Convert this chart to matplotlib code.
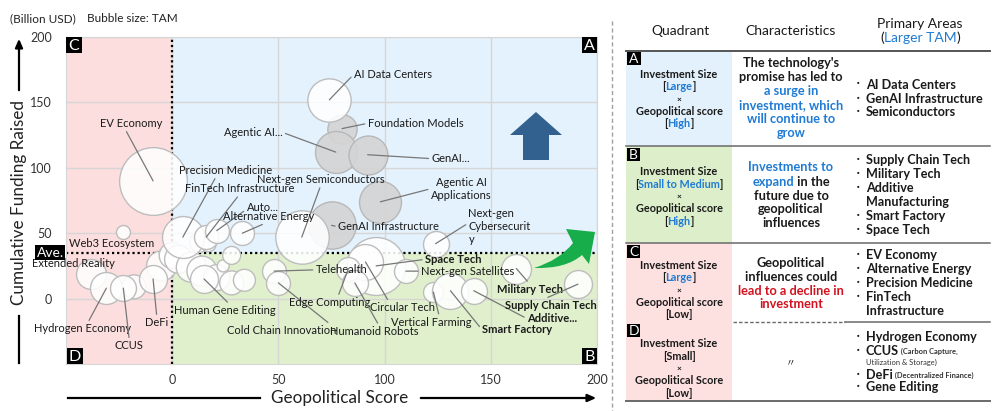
import matplotlib
matplotlib.use("Agg")
import matplotlib.pyplot as plt
from matplotlib.patches import Rectangle, Polygon, PathPatch
from matplotlib.path import Path
import matplotlib.transforms as mtrans

plt.rcParams['font.family'] = ['Lato', 'Noto Sans CJK JP', 'DejaVu Sans']

# ---------------- data ----------------
names = ["AI Data Centers", "Foundation Models", "Agentic AI...", "GenAI...",
         "Agentic AI\nApplications", "GenAI Infrastructure", "Next-gen Semiconductors",
         "Precision Medicine", "FinTech Infrastructure", "Auto...", "Alternative Energy",
         "Next-gen\nCybersecurit\ny", "Space Tech", "Circular Tech", "Next-gen Satellites",
         "Telehealth", "Cold Chain Innovation", "Edge Computing", "Humanoid Robots",
         "Vertical Farming", "Smart Factory", "Additive...", "Military Tech",
         "Supply Chain Tech", "EV Economy", "Web3 Ecosystem", "Extended Reality",
         "Hydrogen Economy", "CCUS", "DeFi", "Human Gene Editing"]
geo_score = [74, 80, 77, 92, 98, 75, 61, 5, 16, 21, 33, 124, 96, 91, 110, 48, 50, 83, 86,
             123, 131, 142, 162, 191, -9, -23, -38, -31, -23, -9, 15]
funding = [152, 130, 112, 110, 74, 56, 47, 47, 47, 52, 50, 42, 25, 28, 21, 21, 12, 23, 12,
           5, 6, 6, 23, 11, 90, 51, 19, 8, 8, 15, 15]
tam = [470, 215, 441, 380, 441, 560, 715, 440, 144, 144, 144, 169, 841, 324, 144, 144, 144,
       144, 169, 100, 324, 169, 225, 196, 1150, 49, 225, 256, 169, 196, 196]
ai_group = ["Foundation Models", "Agentic AI...", "GenAI...", "Agentic AI\nApplications",
            "GenAI Infrastructure"]
bold_names = ["Space Tech", "Military Tech", "Supply Chain Tech", "Additive...", "Smart Factory"]

# other (unlabelled) technologies
other_geo = [-18, -5, 0, 3, 9, 14, 21, 28, 24, 28, 13, 17, 34]
other_funding = [9, 25, 33, 30, 24, 21, 16, 12, 25, 33, 43, 42, 14]
other_tam = [144, 225, 169, 196, 225, 225, 169, 144, 36, 81, 100, 64, 121]

AVE = 35
x_ticks = [0, 50, 100, 150, 200]
y_ticks = [0, 50, 100, 150, 200]

# ---------------- layout ----------------
W, H = 1000, 411
fig = plt.figure(figsize=(10, 4.11), dpi=100)
ax = fig.add_axes([66 / W, 1 - 364 / H, (597 - 66) / W, (364 - 37) / H])
ax.set_xlim(-50, 200)
ax.set_ylim(-50, 200)

PINK, BLUE_BG, GREEN_BG = '#fddede', '#e4f2fd', '#e0f0cd'
ax.add_patch(Rectangle((-50, -50), 50, 250, fc=PINK, ec='none', zorder=0.1))
ax.add_patch(Rectangle((0, AVE), 200, 200 - AVE, fc=BLUE_BG, ec='none', zorder=0.1))
ax.add_patch(Rectangle((0, -50), 200, AVE + 50, fc=GREEN_BG, ec='none', zorder=0.1))

ax.set_xticks(x_ticks)
ax.set_yticks(y_ticks)
ax.set_axisbelow(True)
ax.grid(True, color='#d6d6d6', lw=1)
ax.tick_params(length=0, labelsize=9, colors='#333333')
ax.tick_params(axis='x', pad=7)
ax.tick_params(axis='y', pad=10)
for sp in ax.spines.values():
    sp.set_color('#d6d6d6')

ax.axvline(0, color='black', ls=(0, (1, 1.3)), lw=1.6, zorder=1.5)
ax.axhline(AVE, color='black', ls=(0, (1, 1.3)), lw=1.6, zorder=1.5)

S = 2.07
EDGE = '#bdbdbd'
WHITE = (1, 1, 1, 0.88)
# bubbles
ax.scatter(other_geo, other_funding, s=[t * S for t in other_tam],
           fc=WHITE, ec=EDGE, lw=1, zorder=2)
for n, gx, fy, t in zip(names, geo_score, funding, tam):
    if n in ai_group:
        ax.scatter(gx, fy, s=t * S, fc=(0.83, 0.83, 0.83, 0.92), ec='#b8b8b8', lw=1, zorder=2)
for n, gx, fy, t in zip(names, geo_score, funding, tam):
    if n not in ai_group:
        ax.scatter(gx, fy, s=t * S, fc=WHITE, ec=EDGE, lw=1, zorder=2.1)

# label positions (text anchor in data coords, ha, relpos of leader line start)
label_pos = {
    "AI Data Centers": (85.5, 171.5, 'left', (0, 0.5)),
    "Foundation Models": (92, 134, 'left', (0, 0.5)),
    "Agentic AI...": (52, 127, 'right', (1, 0.5)),
    "GenAI...": (122, 107, 'left', (0, 0.5)),
    "Agentic AI\nApplications": (136, 84, 'center', (0, 0.5)),
    "GenAI Infrastructure": (78, 55, 'left', (0, 0.5)),
    "Next-gen Semiconductors": (70, 91, 'center', (0.5, 0)),
    "Precision Medicine": (3.3, 98, 'left', (0.4, 0)),
    "FinTech Infrastructure": (6, 84, 'left', (0.5, 0)),
    "Auto...": (35, 70, 'left', (0, 0.3)),
    "Alternative Energy": (24, 63, 'left', (0.5, 0)),
    "Next-gen\nCybersecurit\ny": (139.5, 55, 'left', (0, 0.6)),
    "Space Tech": (119, 30, 'left', (0, 0.5)),
    "Circular Tech": (93, -7, 'left', (0.3, 1)),
    "Next-gen Satellites": (117, 21, 'left', (0, 0.5)),
    "Telehealth": (67.5, 22, 'left', (0, 0.5)),
    "Cold Chain Innovation": (26, -24.5, 'left', (0.95, 1)),
    "Edge Computing": (55, -3, 'left', (0.6, 1)),
    "Humanoid Robots": (74.5, -25, 'left', (0.55, 1)),
    "Vertical Farming": (103, -18, 'left', (0.6, 1)),
    "Smart Factory": (146, -24, 'left', (0, 0.5)),
    "Additive...": (167, -15.3, 'left', (0, 0.5)),
    "Military Tech": (152.8, 7, 'left', (0.5, 1)),
    "Supply Chain Tech": (156.6, -5.4, 'left', (0.4, 1)),
    "EV Economy": (-34, 134, 'left', (0.4, 0)),
    "Web3 Ecosystem": (-48.6, 42, 'left', None),
    "Extended Reality": (-66, 27, 'left', None),
    "Hydrogen Economy": (-65, -23, 'left', (0.55, 1)),
    "CCUS": (-27, -36, 'left', (0.5, 1)),
    "DeFi": (-12.7, -18.4, 'left', (0.5, 1)),
    "Human Gene Editing": (1, -9, 'left', (0.55, 1)),
}

LBL = 8.0
for n, gx, fy in zip(names, geo_score, funding):
    tx, ty, ha, rp = label_pos[n]
    fw = 'bold' if n in bold_names else 'normal'
    if rp is None:
        ax.text(tx, ty, n, ha=ha, va='center', fontsize=LBL, color='#1a1a1a',
                fontweight=fw, zorder=4, clip_on=False)
    else:
        ax.annotate(n, xy=(gx, fy), xytext=(tx, ty), ha=ha, va='center',
                    fontsize=LBL, color='#1a1a1a', fontweight=fw, zorder=4,
                    annotation_clip=False, linespacing=1.2,
                    arrowprops=dict(arrowstyle='-', color='#777777', lw=0.9,
                                    relpos=rp, shrinkA=0, shrinkB=0))

# Ave. label
tr = mtrans.blended_transform_factory(ax.transAxes, ax.transData)
ax.text(-0.004, AVE, "Ave.", transform=tr, ha='right', va='center', fontsize=10,
        color='white', bbox=dict(boxstyle='square,pad=0.1', fc='black', ec='none'),
        zorder=5, clip_on=False)

# ---------------- overlay in pixel coords ----------------
ov = fig.add_axes([0, 0, 1, 1], zorder=5)
ov.set_xlim(0, W)
ov.set_ylim(H, 0)
ov.axis('off')
ov.patch.set_alpha(0)

# blue arrow
ov.add_patch(Polygon([(536, 112), (562, 135), (549, 135), (549, 160), (523, 160),
                      (523, 135), (510, 135)], closed=True, fc='#33618f', ec='none'))
# green curved arrow
gpath = Path([(534, 268), (560, 260), (573, 243), (566, 229), (595, 232), (589, 264),
              (582, 255), (566, 269), (534, 268), (534, 268)],
             [Path.MOVETO, Path.CURVE3, Path.CURVE3, Path.LINETO, Path.LINETO, Path.LINETO,
              Path.LINETO, Path.CURVE3, Path.CURVE3, Path.CLOSEPOLY])
ov.add_patch(PathPatch(gpath, fc='#17ad4b', ec='none'))


def letter_box(x0, y0, w, h, letter, fs):
    ov.add_patch(Rectangle((x0, y0), w, h, fc='black', ec='none'))
    ov.text(x0 + w / 2, y0 + h / 2 + 0.5, letter, color='white', fontsize=fs,
            ha='center', va='center')


letter_box(66, 37, 16, 16, 'C', 11.5)
letter_box(582, 37, 15, 16, 'A', 11.5)
letter_box(67, 348, 16, 16, 'D', 11.5)
letter_box(582, 348, 15, 16, 'B', 11.5)

# axis titles with arrows
ov.text(19, 202, "Cumulative Funding Raised", rotation=90, ha='center', va='center',
        fontsize=12.3, color='#222222')
ov.annotate('', xy=(19, 36), xytext=(19, 93),
            arrowprops=dict(arrowstyle='-|>,head_length=0.5,head_width=0.22', color='black', lw=1.6))
ov.plot([19, 19], [316, 363], color='black', lw=1.6)
ov.text(340, 398, "Geopolitical Score", ha='center', va='center', fontsize=12.3, color='#222222')
ov.plot([68, 260], [398, 398], color='black', lw=1.6)
ov.annotate('', xy=(599, 398), xytext=(418, 398),
            arrowprops=dict(arrowstyle='-|>,head_length=0.5,head_width=0.22', color='black', lw=1.6))

ov.text(10, 19, "(Billion USD)", ha='left', va='center', fontsize=8.5, color='#222222')
ov.text(87, 19, "Bubble size: TAM", ha='left', va='center', fontsize=8.5, color='#222222')

# separator
ov.plot([612, 612], [21, 411], color='#a0a0a0', lw=1, ls=(0, (3, 2)))

# ---------------- table ----------------
BLUE = '#1f7bd3'
RED = '#d2121f'
K = '#1a1a1a'
renderer = fig.canvas.get_renderer()


def rich(x, y, parts, ha='center', fs=8, weight='bold'):
    ts = []
    for p in parts:
        s, c = p[0], p[1]
        size = p[2] if len(p) > 2 else fs
        t = ov.text(0, y, s, color=c, fontsize=size, fontweight=weight,
                    ha='left', va='center')
        ts.append(t)
    ws = [t.get_window_extent(renderer).width for t in ts]
    start = x - sum(ws) / 2 if ha == 'center' else x
    for t, w in zip(ts, ws):
        t.set_x(start)
        start += w


# header
HFS = 10
ov.text(681, 31, "Quadrant", ha='center', va='center', fontsize=HFS, color=K)
ov.text(791, 31, "Characteristics", ha='center', va='center', fontsize=HFS, color=K)
ov.text(920, 24, "Primary Areas", ha='center', va='center', fontsize=HFS, color=K)
rich(920, 38, [("(", K), ("Larger TAM", BLUE), (")", K)], fs=HFS, weight='normal')

# left cells
ov.add_patch(Rectangle((626, 51), 106, 95, fc='#e3f1fc', ec='none', zorder=0))
ov.add_patch(Rectangle((626, 146), 106, 97, fc='#ddefca', ec='none', zorder=0))
ov.add_patch(Rectangle((626, 243), 106, 158, fc='#fde0e0', ec='none', zorder=0))

# lines
ov.plot([626, 990], [51, 51], color='#555555', lw=1.4)
ov.plot([626, 990], [146, 146], color='#6a6a6a', lw=1.1)
ov.plot([626, 990], [243, 243], color='#6a6a6a', lw=1.1)
ov.plot([733, 845], [322, 322], color='#6a6a6a', lw=1.0, ls=(0, (2.5, 1.5)))
ov.plot([845, 990], [322, 322], color='#6a6a6a', lw=1.1)
ov.plot([626, 990], [401, 401], color='#6a6a6a', lw=1.4)

letter_box(627, 52, 14, 13, 'A', 10)
letter_box(627, 148, 13, 13, 'B', 10)
letter_box(627, 245, 13, 13, 'C', 10)
letter_box(627, 324, 13, 13, 'D', 10)

LX, CX, BX, PX = 679, 791, 858, 866
LFS, CFS, PFS = 7.8, 9.2, 9.1


def left_cell(ys, size_parts, score_label, level_parts):
    rows = [[("Investment Size", K)], size_parts, [("×", K, 6)],
            [(score_label, K)], level_parts]
    for y, parts in zip(ys, rows):
        rich(LX, y, parts, fs=LFS)


left_cell([74, 87, 99, 111, 123], [("[", K), ("Large", BLUE), ("]", K)],
          "Geopolitical score", [("[", K), ("High", BLUE), ("]", K)])
left_cell([171, 184, 196, 208, 221], [("[", K), ("Small to Medium", BLUE), ("]", K)],
          "Geopolitical score", [("[", K), ("High", BLUE), ("]", K)])
left_cell([265, 277, 290, 302, 314], [("[", K), ("Large", BLUE), ("]", K)],
          "Geopolitical score", [("[Low]", K)])
left_cell([343, 356, 368, 380, 393], [("[Small]", K)],
          "Geopolitical Score", [("[Low]", K)])

char_rows = [
    ([63, 77, 91, 105, 119, 133],
     [[("The technology's", K)], [("promise has led to", K)], [("a surge in", BLUE)],
      [("investment, which", BLUE)], [("will continue to", BLUE)], [("grow", BLUE)]]),
    ([167, 182, 196, 209, 223],
     [[("Investments to", BLUE)], [("expand", BLUE), (" in the", K)], [("future due to", K)],
      [("geopolitical", K)], [("influences", K)]]),
    ([263, 277, 291, 304],
     [[("Geopolitical", K)], [("influences could", K)], [("lead to a decline in", RED)],
      [("investment", RED)]]),
]
for ys, rows in char_rows:
    for y, parts in zip(ys, rows):
        rich(CX, y, parts, fs=CFS)
ov.text(CX, 363, "〃", ha='center', va='center', fontsize=7, color=K)

prim = [
    (85, "AI Data Centers", True), (99, "GenAI Infrastructure", True), (112, "Semiconductors", True),
    (160, "Supply Chain Tech", True), (174, "Military Tech", True), (188, "Additive", True),
    (202, "Manufacturing", False), (216, "Smart Factory", True), (230, "Space Tech", True),
    (255, "EV Economy", True), (269, "Alternative Energy", True), (283, "Precision Medicine", True),
    (297, "FinTech", True), (311, "Infrastructure", False),
    (337, "Hydrogen Economy", True), (387, "Gene Editing", True),
]
for y, s, bullet in prim:
    if bullet:
        ov.text(BX, y, "・", ha='center', va='center', fontsize=7.5, color=K)
    ov.text(PX, y, s, ha='left', va='center', fontsize=PFS, fontweight='bold', color=K)

ov.text(BX, 351, "・", ha='center', va='center', fontsize=7.5, color=K)
rich(PX, 351, [("CCUS", K, PFS), (" (Carbon Capture,", '#333333', 5.4)], ha='left', fs=PFS)
rich(PX, 362, [("Utilization & Storage)", '#333333', 5.4)], ha='left', weight='normal')
ov.text(BX, 375, "・", ha='center', va='center', fontsize=7.5, color=K)
rich(PX, 375, [("DeFi", K, PFS), (" (Decentralized Finance)", '#333333', 5.4)], ha='left', fs=PFS)

fig.savefig("out.png", dpi=100)
